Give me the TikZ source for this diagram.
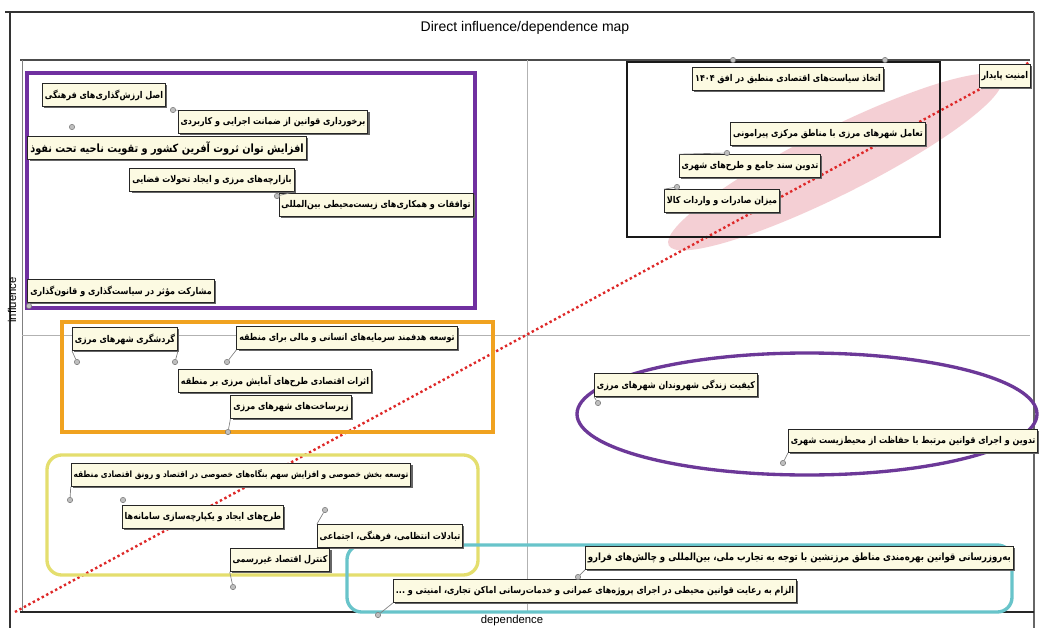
\documentclass[tikz,border=0pt]{standalone}
\usepackage{fontspec}
\setmainfont{Liberation Sans}
\newfontfamily\farsi[Script=Arabic, FakeStretch=0.86]{DejaVu Sans}
\TeXXeTstate=1
\usetikzlibrary{shadows}
\usepackage{xcolor}
\newcommand{\zw}{^^^^200c}

\definecolor{boxfill}{RGB}{252,250,226}
\definecolor{grpviolet}{RGB}{112,48,160}
\definecolor{grporange}{RGB}{240,162,32}
\definecolor{grpyellow}{RGB}{228,222,110}
\definecolor{grpcyan}{RGB}{104,196,202}
\definecolor{ringviolet}{RGB}{108,56,152}
\definecolor{diagred}{RGB}{222,40,40}
\definecolor{blushpink}{RGB}{232,150,160}

\begin{document}
\begin{tikzpicture}[x=0.75pt, y=-0.75pt,
factor/.style={draw=black!85,
fill=boxfill,
line width=0.7pt,
inner sep=1.8pt,
minimum height=17pt,
font=\farsi\bfseries\fontsize{7}{8}\selectfont,
drop shadow={shadow xshift=1.3pt, shadow yshift=-1.3pt, fill=black!60, opacity=1}},
bigfactor/.style={factor, font=\farsi\bfseries\fontsize{8.5}{9}\selectfont},
dot/.style={circle, draw=black!55, fill=black!25, inner sep=0pt, minimum size=4pt},
lead/.style={draw=black!50, line width=0.5pt},
divider/.style={draw=black!30, line width=0.5pt}
]

\useasboundingbox[fill=white] (0,0) rectangle (1039,628);

% frame and axes
\draw[black!80, line width=1.5pt] (5,12) -- (1034,12);
\draw[black!80, line width=1.2pt] (10,12) -- (10,628);
\draw[black!60, line width=1pt] (1034,12) -- (1034,628);
\draw[black!70, line width=0.8pt] (20,60) -- (1030,60);
\draw[black!50, line width=0.6pt] (22,60) -- (22,612);
\draw[black!85, line width=1.2pt] (20,612) -- (1034,612);
\draw[divider] (527,60) -- (527,612);
\draw[divider] (22,335) -- (1030,335);

\node (title) at (525,28) {\fontsize{10.5}{12}\selectfont Direct influence/dependence map};
\node (xaxis) at (512,621) {\fontsize{8.5}{10}\selectfont dependence};
\node[rotate=90] (yaxis) at (12,300) {\fontsize{8.5}{10}\selectfont influence};

% highlight and diagonal
\fill[blushpink, opacity=0.45, rotate around={26.6:(835,162)}] (835,162) ellipse [x radius=186, y radius=33];
\draw[diagred, line width=1.8pt, dotted] (15,612) -- (1030,62);

% groups
\draw[grpviolet, line width=3pt] (27,73) rectangle (475,308);
\draw[grporange, line width=3.5pt] (62,322) rectangle (493,432);
\draw[grpyellow, line width=2.5pt, rounded corners=11pt] (47,455) rectangle (478,575);
\draw[grpcyan, line width=2.5pt, rounded corners=11pt] (347,545) rectangle (1012,612);
\draw[black!90, line width=2pt] (627,62) rectangle (940,237);
\draw[ringviolet, line width=2.5pt] (807,414) ellipse [x radius=230, y radius=61];

% factors
\node[factor] (l1) at (104,95) {\beginR اصل ارزش\zw گذاری\zw های فرهنگی\endR};
\node[factor] (l2) at (273,122) {\beginR برخورداری قوانین از ضمانت اجرایی و کاربردی\endR};
\node[bigfactor] (l3) at (167,148) {\beginR افزایش توان ثروت آفرین کشور و تقویت ناحیه تحت نفوذ\endR};
\node[factor] (l4) at (212,180) {\beginR بازارچه\zw های مرزی و ایجاد تحولات فضایی\endR};
\node[factor] (l5) at (376,205) {\beginR توافقات و همکاری\zw های زیست\zw محیطی بین\zw المللی\endR};
\node[factor] (l6) at (121,291) {\beginR مشارکت مؤثر در سیاست\zw گذاری و قانون\zw گذاری\endR};

\node[factor] (l7) at (125,339) {\beginR گردشگری شهرهای مرزی\endR};
\node[factor] (l8) at (347,338) {\beginR توسعه هدفمند سرمایه\zw های انسانی و مالی برای منطقه\endR};
\node[factor] (l9) at (275,381) {\beginR اثرات اقتصادی طرح\zw های آمایش مرزی بر منطقه\endR};
\node[factor] (l10) at (291,407) {\beginR زیرساخت\zw های شهرهای مرزی\endR};

\node[factor, font=\farsi\bfseries\fontsize{6.5}{8}\selectfont] (l11) at (241,475) {\beginR توسعه بخش خصوصی و افزایش سهم بنگاه\zw های خصوصی در اقتصاد و رونق اقتصادی منطقه\endR};
\node[factor] (l12) at (203,517) {\beginR طرح\zw های ایجاد و یکپارچه\zw سازی سامانه\zw ها\endR};
\node[factor] (l13) at (390,536) {\beginR تبادلات انتظامی، فرهنگی، اجتماعی\endR};
\node[factor] (l14) at (280,560) {\beginR کنترل اقتصاد غیررسمی\endR};

\node[factor, anchor=west, font=\farsi\bfseries\fontsize{7.5}{8}\selectfont] (l15) at (585,558) {\beginR به\zw روزرسانی قوانین بهره\zw مندی مناطق مرزنشین با توجه به تجارب ملی، بین\zw المللی و چالش\zw های فرارو\endR};
\node[factor] (l16) at (595,591) {\beginR الزام به رعایت قوانین محیطی در اجرای پروژه\zw های عمرانی و خدمات\zw رسانی اماکن تجاری، امنیتی و ...\endR};

\node[factor] (l17) at (788,79) {\beginR اتخاذ سیاست\zw های اقتصادی منطبق در افق ۱۴۰۴\endR};
\node[factor] (l18) at (828,134) {\beginR تعامل شهرهای مرزی با مناطق مرکزی پیرامونی\endR};
\node[factor] (l19) at (750,166) {\beginR تدوین سند جامع و طرح\zw های شهری\endR};
\node[factor] (l20) at (722,201) {\beginR میزان صادرات و واردات کالا\endR};
\node[factor, anchor=east] (l21) at (1031,76) {\beginR امنیت پایدار\endR};

\node[factor] (l22) at (676,385) {\beginR کیفیت زندگی شهروندان شهرهای مرزی\endR};
\node[factor, anchor=west] (l23) at (788,441) {\beginR تدوین و اجرای قوانین مرتبط با حفاظت از محیط\zw زیست شهری\endR};

% data points
\node[dot] (p1) at (72,127) {};
\node[dot] (p2) at (173,110) {};
\node[dot] (p4) at (277,196) {};
\node[dot] (p6) at (29,306) {};
\node[dot] (p7) at (77,362) {};
\node[dot] (p7b) at (175,362) {};
\node[dot] (p8) at (227,362) {};
\node[dot] (p10) at (228,432) {};
\node[dot] (p11) at (70,500) {};
\node[dot] (p12) at (123,500) {};
\node[dot] (p13) at (325,510) {};
\node[dot] (p14) at (233,587) {};
\node[dot] (p15) at (578,577) {};
\node[dot] (p16) at (378,615) {};
\node[dot] (p17) at (733,60) {};
\node[dot] (p17b) at (885,60) {};
\node[dot] (p19) at (727,153) {};
\node[dot] (p20) at (677,187) {};
\node[dot] (p22) at (598,403) {};
\node[dot] (p23) at (783,463) {};

\draw[lead] (p2) -- (l2.north west);
\draw[lead] (p4) -- (l4.south east);
\draw[lead] (p6) -- (l6.south west);
\draw[lead] (p7) -- (l7.south west);
\draw[lead] (p7b) -- (l7.south east);
\draw[lead] (p8) -- (l8.south west);
\draw[lead] (p10) -- (l10.south west);
\draw[lead] (p11) -- (l11.south west);
\draw[lead] (p13) -- (l13.north west);
\draw[lead] (p14) -- (l14.south west);
\draw[lead] (p15) -- (l15.south west);
\draw[lead] (p16) -- (l16.south west);
\draw[lead] (p19) -- (l19.north west);
\draw[lead] (p20) -- (l20.north west);
\draw[lead] (p22) -- (l22.south west);
\draw[lead] (p23) -- (l23.south west);

\end{tikzpicture}
\end{document}
